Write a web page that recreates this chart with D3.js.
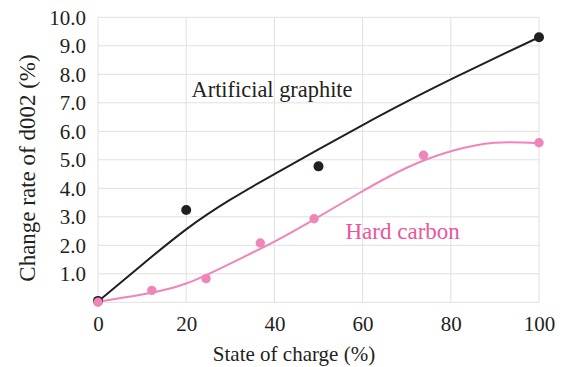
<!DOCTYPE html>
<html>
<head>
<meta charset="utf-8">
<script src="https://cdn.jsdelivr.net/npm/d3@7"></script>
<style>
  body { margin: 0; background: #fff; }
</style>
</head>
<body>
<figure id="chart" style="margin:0"></figure>
<script>
// measured points
const graphitePoints = [[0, 0.05], [20, 3.24], [50, 4.77], [100, 9.3]];
const hardCarbonPoints = [[0, 0.0], [12.2, 0.42], [24.5, 0.83], [36.8, 2.08], [49, 2.93], [73.8, 5.16], [100, 5.6]];

// fitted curves
const graphiteCurve = [[0, 0.03], [10, 1.32], [20, 2.56], [30, 3.6], [40, 4.5], [50, 5.37],
  [60, 6.22], [70, 7.04], [80, 7.82], [90, 8.57], [100, 9.3]];
const hardCarbonCurve = [[0, 0.02], [10, 0.27], [20, 0.66], [30, 1.36], [40, 2.13], [50, 3.0],
  [60, 3.9], [70, 4.72], [80, 5.3], [90, 5.6], [100, 5.58]];

const xTicks = [0, 20, 40, 60, 80, 100];
const yTicks = [1, 2, 3, 4, 5, 6, 7, 8, 9, 10];

const width = 566, height = 367;
const margin = { top: 17.3, right: 27, bottom: 64.7, left: 98 };
const font = "'Liberation Serif', 'Times New Roman', Times, serif";

const colors = { graphite: "#231f20", hard: "#ef85b9", hardText: "#e8579c", grid: "#e0e0e0" };

const svg = d3.select("#chart").append("svg")
  .attr("width", width)
  .attr("height", height);

const x = d3.scaleLinear().domain([0, 100]).range([margin.left, width - margin.right]);
const y = d3.scaleLinear().domain([0, 10]).range([height - margin.bottom, margin.top]);

// grid
svg.append("g")
  .selectAll("line")
  .data(xTicks)
  .join("line")
  .attr("x1", d => x(d)).attr("x2", d => x(d))
  .attr("y1", y(0)).attr("y2", y(10))
  .attr("stroke", colors.grid).attr("stroke-width", 1);

svg.append("g")
  .selectAll("line")
  .data([0].concat(yTicks))
  .join("line")
  .attr("x1", x(0)).attr("x2", x(100))
  .attr("y1", d => y(d)).attr("y2", d => y(d))
  .attr("stroke", colors.grid).attr("stroke-width", 1);

// axes (labels only)
const xAxis = svg.append("g")
  .attr("transform", "translate(0," + y(0) + ")")
  .call(d3.axisBottom(x).tickValues(xTicks).tickSize(0).tickPadding(14));
xAxis.select(".domain").remove();
xAxis.selectAll(".tick text")
  .style("font-family", font)
  .style("font-size", "21px")
  .attr("fill", "#231f20");

const yAxis = svg.append("g")
  .attr("transform", "translate(" + x(0) + ",0)")
  .call(d3.axisLeft(y).tickValues(yTicks).tickSize(0).tickPadding(12).tickFormat(d3.format(".1f")));
yAxis.select(".domain").remove();
yAxis.selectAll(".tick text")
  .style("font-family", font)
  .style("font-size", "21px")
  .attr("fill", "#231f20");

// curves
const line = d3.line()
  .x(d => x(d[0]))
  .y(d => y(d[1]))
  .curve(d3.curveNatural);

svg.append("path")
  .datum(hardCarbonCurve)
  .attr("d", line)
  .attr("fill", "none")
  .attr("stroke", colors.hard)
  .attr("stroke-width", 2);

svg.append("path")
  .datum(graphiteCurve)
  .attr("d", line)
  .attr("fill", "none")
  .attr("stroke", colors.graphite)
  .attr("stroke-width", 2);

// points
svg.append("g")
  .selectAll("circle")
  .data(graphitePoints)
  .join("circle")
  .attr("cx", d => x(d[0]))
  .attr("cy", d => y(d[1]))
  .attr("r", 5)
  .attr("fill", colors.graphite);

svg.append("g")
  .selectAll("circle")
  .data(hardCarbonPoints)
  .join("circle")
  .attr("cx", d => x(d[0]))
  .attr("cy", d => y(d[1]))
  .attr("r", 4.7)
  .attr("fill", colors.hard);

function label(txt, px, py, size, color) {
  return svg.append("text")
    .attr("x", px)
    .attr("y", py)
    .style("font-family", font)
    .style("font-size", size + "px")
    .attr("fill", color || "#231f20")
    .text(txt);
}

// series labels
label("Artificial graphite", 191.5, 96.5, 22.4);
label("Hard carbon", 345.5, 238.5, 23, colors.hardText);

// axis titles
label("State of charge (%)", 294, 360.5, 21)
  .attr("text-anchor", "middle");

label("Change rate of d002 (%)", 0, 0, 23)
  .attr("transform", "translate(35,168) rotate(-90)")
  .attr("text-anchor", "middle");
</script>
</body>
</html>
